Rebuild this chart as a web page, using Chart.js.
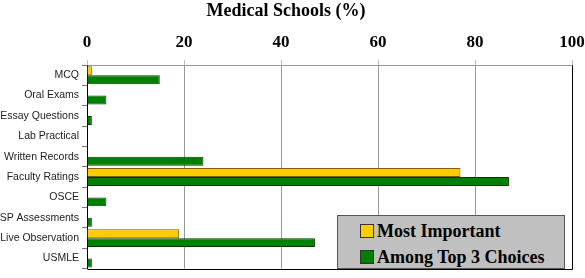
<!DOCTYPE html>
<html>
<head>
<meta charset="utf-8">
<script src="https://cdn.jsdelivr.net/npm/chart.js@4/dist/chart.umd.min.js"></script>
<style>
  html, body { margin: 0; padding: 0; background: #fff; }
  #wrap { position: relative; width: 585px; height: 278px; }
  #legend {
    position: absolute; left: 337px; top: 215px; width: 226px; height: 52px;
    background: #c0c0c0; border: 1px solid #555;
    font: bold 18px "Liberation Serif", serif; color: #000;
  }
  #legend .item { position: absolute; left: 22px; height: 20px; line-height: 20px; white-space: nowrap; }
  #legend .sw { display: inline-block; width: 12px; height: 12px; border: 1px solid #333; vertical-align: -1px; margin-right: 3px; }
</style>
</head>
<body>
<div id="wrap">
  <canvas id="chart" width="585" height="278"></canvas>
  <div id="legend"></div>
</div>
<script>
// Survey categories (top to bottom)
const categories = ['MCQ', 'Oral Exams', 'Essay Questions', 'Lab Practical', 'Written Records',
    'Faculty Ratings', 'OSCE', 'SP Assessments', 'Live Observation', 'USMLE'];

// Percentage of medical schools
const mostImportant = [1, 0, 0, 0, 0, 77, 0, 0, 19, 0];
const amongTop3 = [15, 4, 1, 0, 24, 87, 4, 1, 47, 1];

const xTicks = [0, 20, 40, 60, 80, 100];

const seriesNames = ['Most Important', 'Among Top 3 Choices'];
const seriesColors = ['#ffcc00', '#008000'];
const seriesBorders = ['#7a6000', '#003a00'];

// frame round the plot area: gray top, black right and bottom
const frame = {
    id: 'frame',
    afterDatasetsDraw(chart) {
        const a = chart.chartArea, ctx = chart.ctx;
        const l = Math.round(a.left) + 0.5, r = Math.round(a.right) + 0.5;
        const t = Math.round(a.top) + 0.5, b = Math.round(a.bottom) + 0.5;
        ctx.save();
        ctx.lineWidth = 1;
        ctx.strokeStyle = '#999';
        ctx.beginPath();
        ctx.moveTo(l, t);
        ctx.lineTo(r, t);
        ctx.stroke();
        ctx.strokeStyle = '#000';
        ctx.beginPath();
        ctx.moveTo(r, t);
        ctx.lineTo(r, b);
        ctx.lineTo(l, b);
        ctx.stroke();
        ctx.restore();
    }
};

const config = {
    type: 'bar',
    data: {
        labels: categories,
        datasets: [
            {
                label: seriesNames[0],
                data: mostImportant,
                backgroundColor: seriesColors[0],
                borderColor: seriesBorders[0],
                borderWidth: 1,
            },
            {
                label: seriesNames[1],
                data: amongTop3,
                backgroundColor: seriesColors[1],
                borderColor: seriesBorders[1],
                borderWidth: 1,
            }
        ]
    },
    options: {
        indexAxis: 'y',
        responsive: false,
        animation: false,
        layout: { padding: { left: 0, right: 13, top: 0, bottom: 3 } },
        datasets: { bar: { categoryPercentage: 0.88, barPercentage: 1.0 } },
        scales: {
            x: {
                position: 'top',
                min: 0,
                max: 100,
                afterBuildTicks(scale) { scale.ticks = xTicks.map(v => ({ value: v })); },
                afterFit(scale) {
                    scale.height = 39.4;
                    scale.paddingLeft = 0;
                    scale.paddingRight = 0;
                },
                ticks: {
                    font: { family: '"Liberation Serif", serif', size: 17, weight: 'bold' },
                    color: '#000',
                    padding: 7,
                },
                grid: { color: '#999', tickLength: 5, tickColor: '#bbb' },
                border: { display: false },
            },
            y: {
                afterFit(scale) { scale.width = 87; },
                ticks: {
                    font: { family: '"Liberation Sans", Arial, sans-serif', size: 10.5 },
                    color: '#222',
                    padding: 3,
                },
                grid: { offset: true, drawOnChartArea: false, tickLength: 5, color: '#777' },
                border: { display: true, color: '#000' },
            }
        },
        plugins: {
            legend: { display: false },
            tooltip: { enabled: false },
            title: {
                display: true,
                text: 'Medical Schools (%)',
                color: '#000',
                font: { family: '"Liberation Serif", serif', size: 18, weight: 'bold' },
                padding: { top: 1, bottom: 3 },
            }
        }
    },
    plugins: [frame]
};

const chart = new Chart(document.getElementById('chart'), config);

// HTML legend built from the datasets
const legendEl = document.getElementById('legend');
chart.data.datasets.forEach((ds, i) => {
    const item = document.createElement('div');
    item.className = 'item';
    item.style.top = (5 + i * 26) + 'px';
    const sw = document.createElement('span');
    sw.className = 'sw';
    sw.style.background = ds.backgroundColor;
    item.appendChild(sw);
    item.appendChild(document.createTextNode(ds.label));
    legendEl.appendChild(item);
});
</script>
</body>
</html>
